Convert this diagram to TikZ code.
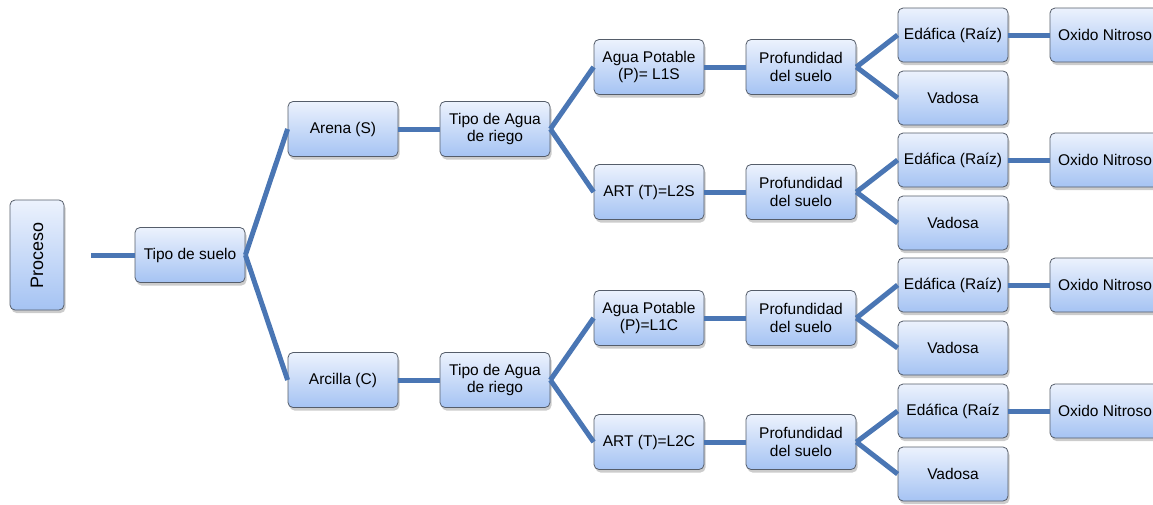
\documentclass[tikz,border=0pt]{standalone}
\usepackage{fontspec}
\setmainfont{Liberation Sans}
\usetikzlibrary{shadows}
\definecolor{lineblue}{HTML}{4A76B4}
\definecolor{boxtop}{HTML}{ECF2FD}
\definecolor{boxbot}{HTML}{A5C3F3}
\definecolor{boxedge}{HTML}{555D6A}
\begin{document}
\begin{tikzpicture}[x=1pt,y=-1pt,
  box/.style={draw=boxedge, line width=0.8pt, rounded corners=5pt,
    top color=boxtop, bottom color=boxbot,
    minimum width=110pt, minimum height=55pt, inner sep=0pt, align=center,
    font=\fontsize{15.5}{17.5}\selectfont,
    drop shadow={opacity=0.2, shadow xshift=1.5pt, shadow yshift=-3pt, fill=black}},
  leaf/.style={box, minimum height=54pt},
  conn/.style={draw=lineblue, line width=5pt}]
\useasboundingbox (0,0) rectangle (1153,504);

\node[box, minimum width=54pt, minimum height=110pt, font=\fontsize{18}{20}\selectfont] (proc) at (37,255) {\rotatebox{90}{Proceso}};
\coordinate (start) at (91,255);
\node[box] (suelo) at (190,255) {Tipo de suelo};

\node[box] (arena) at (343,129) {Arena (S)};
\node[box] (arcilla) at (343,380) {Arcilla (C)};
\node[box] (aguaS) at (495,129) {Tipo de Agua\\de riego};
\node[box] (aguaC) at (495,380) {Tipo de Agua\\de riego};

\node[box] (p1) at (649,67) {Agua Potable\\(P)= L1S};
\node[box] (t1) at (649,192) {ART (T)=L2S};
\node[box] (p2) at (649,318) {Agua Potable\\(P)=L1C};
\node[box] (t2) at (649,442) {ART (T)=L2C};

\node[box] (pr1) at (801,67) {Profundidad\\del suelo};
\node[box] (pr2) at (801,192) {Profundidad\\del suelo};
\node[box] (pr3) at (801,318) {Profundidad\\del suelo};
\node[box] (pr4) at (801,442) {Profundidad\\del suelo};

\node[leaf] (e1) at (953,35) {Edáfica (Raíz)};
\node[leaf] (v1) at (953,98) {Vadosa};
\node[leaf] (e2) at (953,160) {Edáfica (Raíz)};
\node[leaf] (v2) at (953,223) {Vadosa};
\node[leaf] (e3) at (953,285) {Edáfica (Raíz)};
\node[leaf] (v3) at (953,348) {Vadosa};
\node[leaf] (e4) at (953,411) {Edáfica (Raíz};
\node[leaf] (v4) at (953,474) {Vadosa};

\node[leaf] (o1) at (1105,35) {Oxido Nitroso};
\node[leaf] (o2) at (1105,160) {Oxido Nitroso};
\node[leaf] (o3) at (1105,285) {Oxido Nitroso};
\node[leaf] (o4) at (1105,411) {Oxido Nitroso};

\draw[conn] (start) -- (suelo.west);
\draw[conn] (suelo.east) -- (arena.west);
\draw[conn] (suelo.east) -- (arcilla.west);
\draw[conn] (arena.east) -- (aguaS.west);
\draw[conn] (arcilla.east) -- (aguaC.west);
\draw[conn] (aguaS.east) -- (p1.west);
\draw[conn] (aguaS.east) -- (t1.west);
\draw[conn] (aguaC.east) -- (p2.west);
\draw[conn] (aguaC.east) -- (t2.west);
\draw[conn] (p1.east) -- (pr1.west);
\draw[conn] (t1.east) -- (pr2.west);
\draw[conn] (p2.east) -- (pr3.west);
\draw[conn] (t2.east) -- (pr4.west);
\draw[conn] (pr1.east) -- (e1.west);
\draw[conn] (pr1.east) -- (v1.west);
\draw[conn] (pr2.east) -- (e2.west);
\draw[conn] (pr2.east) -- (v2.west);
\draw[conn] (pr3.east) -- (e3.west);
\draw[conn] (pr3.east) -- (v3.west);
\draw[conn] (pr4.east) -- (e4.west);
\draw[conn] (pr4.east) -- (v4.west);
\draw[conn] (e1.east) -- (o1.west);
\draw[conn] (e2.east) -- (o2.west);
\draw[conn] (e3.east) -- (o3.west);
\draw[conn] (e4.east) -- (o4.west);
\end{tikzpicture}
\end{document}
